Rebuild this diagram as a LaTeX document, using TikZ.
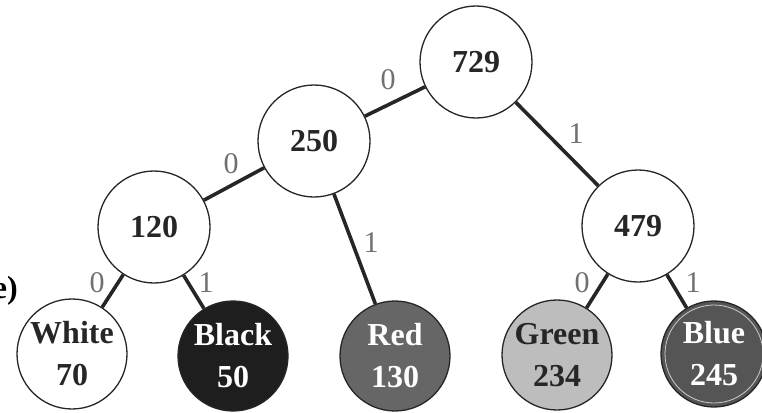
\documentclass[tikz,border=0pt]{standalone}
\usepackage{fontspec}
\setmainfont{Liberation Serif}
\definecolor{lblgray}{HTML}{707070}
\definecolor{blackfill}{HTML}{1E1E1E}
\definecolor{redfill}{HTML}{666666}
\definecolor{greenfill}{HTML}{BDBDBD}
\definecolor{bluefill}{HTML}{555555}
\begin{document}
\begin{tikzpicture}[x=1pt,y=-1pt,
  inner/.style={circle,draw=black!85,line width=1.3pt,fill=white,minimum size=112pt,inner sep=0pt,
    font=\fontsize{32}{38}\selectfont\bfseries,text=black!85},
  leaf/.style={circle,draw=black!85,line width=1.3pt,minimum size=110pt,inner sep=0pt,align=center,
    font=\fontsize{32}{42}\selectfont\bfseries},
  edge/.style={line width=3.6pt,black!85},
  lbl/.style={font=\fontsize{30}{30}\selectfont,text=lblgray,inner sep=0pt}]
\useasboundingbox (0,0) rectangle (762,412);
% internal nodes
\node[inner] (n729) at (476,62) {729};
\node[inner] (n250) at (314,141) {250};
\node[inner] (n120) at (154,227) {120};
\node[inner] (n479) at (638,226) {479};
% leaves
\node[leaf,fill=white,text=black!85] (white) at (72,354) {White\\70};
\node[leaf,fill=blackfill,text=white] (black) at (233,356) {Black\\50};
\node[leaf,fill=redfill,text=white!92] (red) at (395,356) {Red\\130};
\node[leaf,fill=greenfill,text=black!85] (green) at (557,355) {Green\\234};
\node[leaf,fill=bluefill,text=white,minimum size=106pt] (blue) at (714,354) {Blue\\245};
\draw[white!80!black,line width=0.8pt] (blue.center) circle (49pt);
% edges
\draw[edge] (n729) -- (n250);
\draw[edge] (n729) -- (n479);
\draw[edge] (n250) -- (n120);
\draw[edge] (n250) -- (red);
\draw[edge] (n120) -- (white);
\draw[edge] (n120) -- (black);
\draw[edge] (n479) -- (green);
\draw[edge] (n479) -- (blue);
% edge labels
\node[lbl] (l1) at (388,80) {0};
\node[lbl] (l2) at (576,134) {1};
\node[lbl] (l3) at (231,164) {0};
\node[lbl] (l4) at (371,243) {1};
\node[lbl] (l5) at (97,283) {0};
\node[lbl] (l6) at (206,283) {1};
\node[lbl] (l7) at (582,283) {0};
\node[lbl] (l8) at (693,283) {1};
% panel label
\node[font=\fontsize{32}{32}\selectfont\bfseries,anchor=east,inner sep=0pt] (tag) at (18,291) {(e)};
\end{tikzpicture}
\end{document}
